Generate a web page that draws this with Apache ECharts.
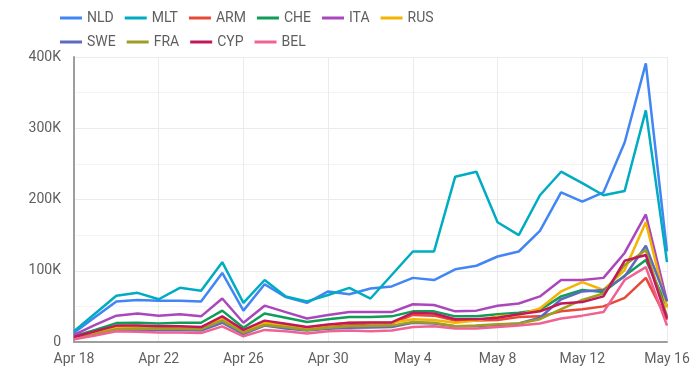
<!DOCTYPE html>
<html>
<head>
<meta charset="utf-8">
<script src="https://cdn.jsdelivr.net/npm/echarts@6/dist/echarts.min.js"></script>
<style>
html,body{margin:0;padding:0;background:#fff;}
#chart{width:697px;height:382px;}
</style>
</head>
<body>
<div id="chart"></div>
<script>
var categories = ["Apr 18","Apr 19","Apr 20","Apr 21","Apr 22","Apr 23","Apr 24","Apr 25","Apr 26","Apr 27","Apr 28","Apr 29","Apr 30","May 1","May 2","May 3","May 4","May 5","May 6","May 7","May 8","May 9","May 10","May 11","May 12","May 13","May 14","May 15","May 16"];
var seriesNames = ["NLD","MLT","ARM","CHE","ITA","RUS","SWE","FRA","CYP","BEL"];
var yTicks = [0,100000,200000,300000,400000];

var NLD = [13,35,57,59,58,58,57,97,44,81,63,55,71,67,75,78,90,87,102,107,120,127,156,210,197,210,280,391,127];
var MLT = [15,40,65,69,60,76,72,112,55,87,64,57,66,76,61,94,127,127,232,239,168,150,206,239,223,206,212,325,112];
var ARM = [6,12,21,22,21,21,20,31,14,25,23,19,23,25,26,26,38,37,30,30,31,35,36,43,46,50,62,90,31];
var CHE = [8,17,26.5,27,26,27,27,44,20,40,34,28,32,35,35,36,43,43,36,36,39,41,45,64,73,70,93,115,50];
var ITA = [10,24,37,40,37,39,36,61,27,51,42,33,38,42,42,42,53,52,43,44,51,54,64,87,87,90,125,179,57];
var RUS = [6,13,20,21,20,20,19,32,15,26.5,24,20,24,27,27,27,32,31,27,30,36,38,47,71,84,73,101,168,48];
var SWE = [5,10,16,17,17,17,16,27,11,23,19,16,18.5,20,20.5,21,27,26,22,22.5,24,26,34,60,71,73,92,135,57];
var FRA = [5,11,18,19,18.5,18.5,18,30,13,24,21,17,20,22,22.5,23,28,27,22,23,25,26,32,46,59,68,108,129,36];
var CYP = [7,15,23,23,22,22,21,36,17,30,25.5,21,24.5,27,27.5,27.5,41,40,32,32,34,39,43,54,56,64,114,122,33];
var BEL = [4,9,15,14.5,13.5,13.5,12.5,22,8,17,15,12,15,16,15,16,21,22,19,19,21,23,26,33,37,42,87,105,23];

var colors = {NLD:"#4285f4",MLT:"#00acc1",ARM:"#e64a37",CHE:"#0f9d58",ITA:"#ab47bc",RUS:"#f4b400",SWE:"#5c6bc0",FRA:"#9e9d24",CYP:"#c2185b",BEL:"#f06292"};
var dataMap = {NLD:NLD,MLT:MLT,ARM:ARM,CHE:CHE,ITA:ITA,RUS:RUS,SWE:SWE,FRA:FRA,CYP:CYP,BEL:BEL};

var chart = echarts.init(document.getElementById('chart'), null, {renderer:'canvas'});

var legendCommon = {
  icon: 'rect', itemWidth: 22, itemHeight: 3, itemGap: 11,
  textStyle: {color:'#5f5f5f', fontSize: 14, fontFamily: 'Roboto'},
  left: 55
};

var option = {
  animation: false,
  backgroundColor: '#fff',
  color: seriesNames.map(function(n){return colors[n];}),
  legend: [
    Object.assign({}, legendCommon, {top: 6, data: seriesNames.slice(0,6)}),
    Object.assign({}, legendCommon, {top: 30, data: seriesNames.slice(6)})
  ],
  grid: {left: 74, right: 30, top: 57, bottom: 40, containLabel: false},
  xAxis: {
    type: 'category',
    data: categories,
    boundaryGap: false,
    axisLine: {show: true, lineStyle: {color: '#9e9e9e', width: 2}},
    axisTick: {show: false},
    axisLabel: {interval: 3, color: '#5f5f5f', fontSize: 14, fontFamily: 'Roboto', margin: 10},
    splitLine: {show: true, interval: 3, lineStyle: {color: '#ebebeb', width: 1}}
  },
  yAxis: {
    type: 'value',
    min: yTicks[0],
    max: yTicks[yTicks.length-1],
    interval: 100000,
    axisLine: {show: true, lineStyle: {color: '#9e9e9e', width: 2}},
    axisTick: {show: false},
    axisLabel: {
      color: '#5f5f5f', fontSize: 14, fontFamily: 'Roboto', margin: 13,
      formatter: function(v){ return v === 0 ? '0' : (v/1000) + 'K'; }
    },
    splitLine: {show: true, lineStyle: {color: '#ebebeb', width: 1}},
    minorTick: {show: false, splitNumber: 2},
    minorSplitLine: {show: true, lineStyle: {color: '#f4f4f4', width: 1}}
  },
  series: seriesNames.map(function(n){
    return {
      name: n,
      type: 'line',
      data: dataMap[n].map(function(v){ return v * 1000; }),
      showSymbol: false,
      symbol: 'none',
      lineStyle: {width: 2.5, color: colors[n]},
      itemStyle: {color: colors[n]}
    };
  })
};
chart.setOption(option);
</script>
</body>
</html>
